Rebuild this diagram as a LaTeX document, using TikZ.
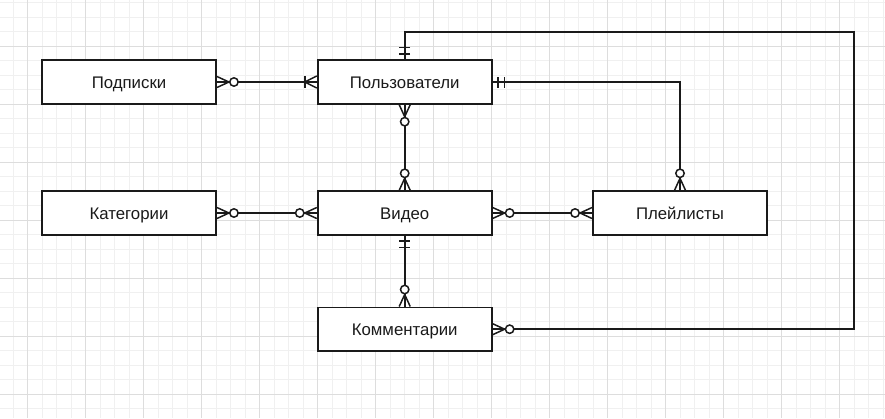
\documentclass[tikz,border=0pt]{standalone}
\usepackage{fontspec}
\setmainfont{Liberation Sans}
\usetikzlibrary{decorations.markings}
\definecolor{gridminor}{HTML}{F0F0F0}
\definecolor{gridmajor}{HTML}{DDDDDD}
\definecolor{inkc}{HTML}{1A1A1A}
\tikzset{
  entity/.style={draw=inkc, line width=1.9pt, fill=white, rectangle,
    minimum width=174pt, minimum height=43.5pt, inner sep=0pt,
    text height=12pt, text depth=0pt,
    font=\fontsize{16.8}{20}\selectfont, text=inkc},
  rel/.style={draw=inkc, line width=1.9pt},
  zmanyS/.style={postaction={decorate, decoration={markings,
    mark=at position 0 with {
      \draw[inkc, line width=1.5pt] (0,5.5) -- (12,0) -- (0,-5.5);
      \draw[inkc, line width=1.5pt, fill=white] (17,0) circle (4.2);
    }}}},
  zmanyE/.style={postaction={decorate, decoration={markings,
    mark=at position 1 with {
      \draw[inkc, line width=1.5pt] (0,5.5) -- (-12,0) -- (0,-5.5);
      \draw[inkc, line width=1.5pt, fill=white] (-17,0) circle (4.2);
    }}}},
  omanyE/.style={postaction={decorate, decoration={markings,
    mark=at position 1 with {
      \draw[inkc, line width=1.5pt] (0,6) -- (-12,0) -- (0,-6);
      \draw[inkc, line width=1.5pt] (-12,6) -- (-12,-6);
    }}}},
  oneoneS/.style={postaction={decorate, decoration={markings,
    mark=at position 0 with {
      \draw[inkc, line width=1.5pt] (5.5,5.5) -- (5.5,-5.5);
      \draw[inkc, line width=1.5pt] (12,5.5) -- (12,-5.5);
    }}}},
}
\begin{document}
\begin{tikzpicture}[x=1pt, y=-1pt]
\useasboundingbox (0,0) rectangle (885,418);
\fill[white] (0,0) rectangle (885,418);
% grid
\foreach \i in {0,...,61} {
  \draw[gridminor, line width=0.8pt] ({13.2+14.5*\i},0) -- ({13.2+14.5*\i},418);
}
\foreach \j in {0,...,28} {
  \draw[gridminor, line width=0.8pt] (0,{2.5+14.5*\j}) -- (885,{2.5+14.5*\j});
}
\foreach \i in {0,...,15} {
  \draw[gridmajor, line width=0.8pt] ({27.7+58*\i},0) -- ({27.7+58*\i},418);
}
\foreach \j in {0,...,7} {
  \draw[gridmajor, line width=0.8pt] (0,{-12+58*\j}) -- (885,{-12+58*\j});
}
% entities
\node[entity] (podp)  at (129,82)  {Подписки};
\node[entity] (users) at (404.7,82) {Пользователи};
\node[entity] (cat)   at (129,213)   {Категории};
\node[entity] (video) at (404.7,213) {Видео};
\node[entity] (play)  at (680,213)   {Плейлисты};
\node[entity] (comm)  at (404.7,329.2) {Комментарии};
\coordinate (tr) at (854,32.3);
\coordinate (br) at (tr |- comm.east);
% relations
\draw[rel, zmanyS, omanyE] (podp.east) -- (users.west);
\draw[rel, zmanyS, zmanyE] (users.south) -- (video.north);
\draw[rel, zmanyS, zmanyE] (cat.east) -- (video.west);
\draw[rel, zmanyS, zmanyE] (video.east) -- (play.west);
\draw[rel, oneoneS, zmanyE] (video.south) -- (comm.north);
\draw[rel, oneoneS, zmanyE] (users.east) -| (play.north);
\draw[rel, oneoneS, zmanyE] (users.north) |- (tr) -- (br) -- (comm.east);
\end{tikzpicture}
\end{document}
